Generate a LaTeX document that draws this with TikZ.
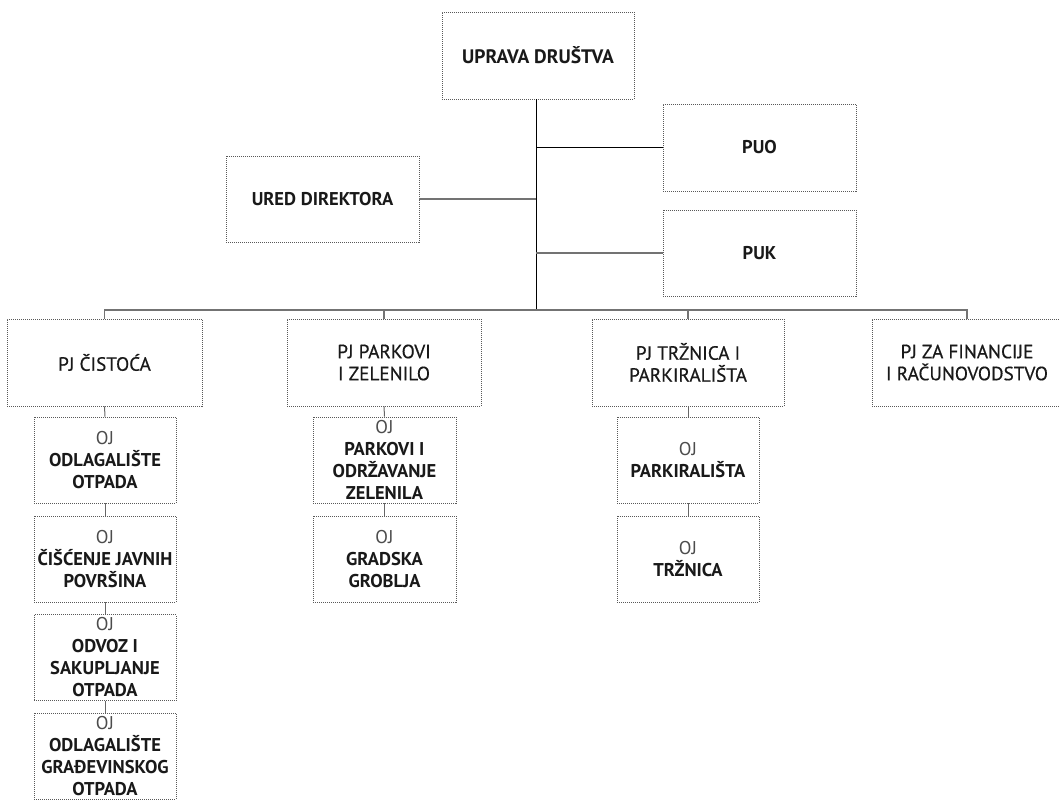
\documentclass[tikz,border=0pt]{standalone}
\usepackage{fontspec}
\setmainfont{PT Sans}
\newfontfamily\pjfont[FakeBold=0.5]{PT Sans}
\begin{document}
\begin{tikzpicture}[x=1pt,y=-1pt,
  box/.style={draw=black!65, line width=0.8pt, dash pattern=on 1pt off 1pt,
    rectangle, inner sep=0pt, align=center, text=black!90},
  ojbox/.style={box, minimum width=142pt, minimum height=86pt,
    font=\fontsize{18.5}{22}\selectfont},
  pjbox/.style={box, minimum height=87pt, font=\pjfont\fontsize{19.2}{22}\selectfont},
  topbox/.style={box, font=\fontsize{18.5}{22}\selectfont\bfseries},
  blk/.style={draw=black, line width=0.9pt},
  gry/.style={draw=black!55, line width=1.1pt},
  sub/.style={draw=black!60, line width=1pt}
]
\useasboundingbox (0,0) rectangle (1059,801);
\newcommand{\ojl}{{\mdseries\color{black!70}OJ}}

\node[topbox, minimum width=192pt, minimum height=87pt, font=\fontsize{19.5}{22}\selectfont\bfseries] (upr) at (538,55.5) {UPRAVA DRUŠTVA};
\node[topbox, minimum width=193pt, minimum height=86pt] (ured) at (322.5,199) {URED DIREKTORA};
\node[topbox, minimum width=193pt, minimum height=87pt] (puo) at (759.5,147.5) {PUO};
\node[topbox, minimum width=193pt, minimum height=86pt] (puk) at (759.5,253) {PUK};

\node[pjbox, minimum width=195pt] (pj1) at (104.5,362.5) {PJ ČISTOĆA};
\node[pjbox, minimum width=194pt] (pj2) at (384,362.5) {PJ PARKOVI\\I ZELENILO};
\node[pjbox, minimum width=192pt] (pj3) at (688,362.5) {PJ TRŽNICA I\\PARKIRALIŠTA};
\node[pjbox, minimum width=190pt] (pj4) at (967,362.5) {PJ ZA FINANCIJE\\I RAČUNOVODSTVO};

\node[ojbox] (a1) at (105,460) {\ojl\\\textbf{ODLAGALIŠTE}\\\textbf{OTPADA}};
\node[ojbox] (a2) at (105,559) {\ojl\\\textbf{ČIŠĆENJE JAVNIH}\\\textbf{POVRŠINA}};
\node[ojbox] (a3) at (105,657.5) {\ojl\\\textbf{ODVOZ I}\\\textbf{SAKUPLJANJE}\\\textbf{OTPADA}};
\node[ojbox] (a4) at (105,756) {\ojl\\\textbf{ODLAGALIŠTE}\\\textbf{GRAĐEVINSKOG}\\\textbf{OTPADA}};

\node[ojbox, minimum width=143pt] (b1) at (384.5,460) {\ojl\\\textbf{PARKOVI I}\\\textbf{ODRŽAVANJE}\\\textbf{ZELENILA}};
\node[ojbox, minimum width=143pt] (b2) at (384.5,559) {\ojl\\\textbf{GRADSKA}\\\textbf{GROBLJA}};

\node[ojbox] (c1) at (688,460) {\ojl\\\textbf{PARKIRALIŠTA}};
\node[ojbox] (c2) at (688,559) {\ojl\\\textbf{TRŽNICA}};

\coordinate (tr) at (536,310);
\draw[blk] (upr.south -| tr) -- (tr);
\draw[gry] (ured.east) -- (ured.east -| tr);
\draw[blk] (puo.west) -- (puo.west -| tr);
\draw[gry] (puk.west) -- (puk.west -| tr);
\draw[gry] (pj1.north) |- (tr) -| (pj4.north);
\draw[gry] (pj2.north) -- (pj2.north |- tr);
\draw[gry] (pj3.north) -- (pj3.north |- tr);

\draw[sub] (pj1.south) -- (a1.north);
\draw[sub] (a1.south) -- (a2.north);
\draw[sub] (a2.south) -- (a3.north);
\draw[sub] (a3.south) -- (a4.north);
\draw[sub] (pj2.south) -- (b1.north);
\draw[sub] (b1.south) -- (b2.north);
\draw[sub] (pj3.south) -- (c1.north);
\draw[sub] (c1.south) -- (c2.north);
\end{tikzpicture}
\end{document}
